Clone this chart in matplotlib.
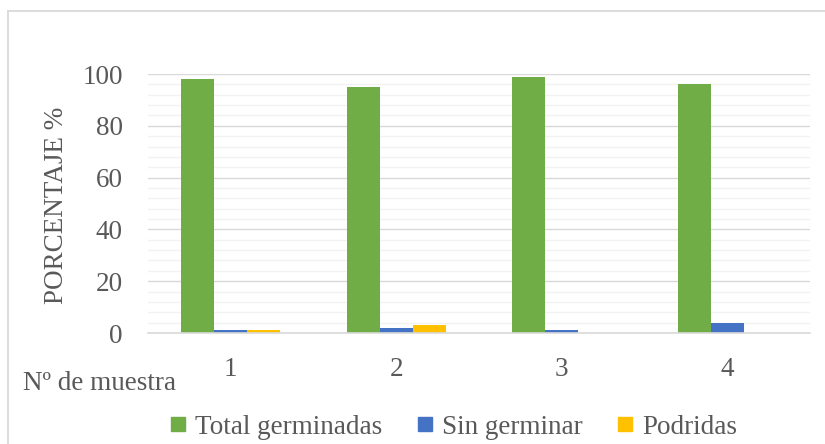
import matplotlib
matplotlib.use("Agg")
import matplotlib.pyplot as plt
from matplotlib.ticker import MultipleLocator
from matplotlib.lines import Line2D
import numpy as np

categories = ["1", "2", "3", "4"]
series_names = ["Total germinadas", "Sin germinar", "Podridas"]
total_germinadas = [98, 95, 99, 96]
sin_germinar = [1, 2, 1, 4]
podridas = [1, 3, 0, 0]
colors = ["#70AD47", "#4472C4", "#FFC000"]

plt.rcParams['font.family'] = ['Liberation Serif', 'DejaVu Serif']
txt = "#595959"
fs = 19.5

fig = plt.figure(figsize=(8.25, 4.44), dpi=100)
ax = fig.add_axes([148/825, 1-333/444, (810-148)/825, (333-74)/444])

x = np.arange(len(categories))
w = 0.2
for i, (vals, c) in enumerate(zip([total_germinadas, sin_germinar, podridas], colors)):
    ax.bar(x + (i-1)*w, vals, width=w, color=c, zorder=3)

ax.set_xlim(-0.5, len(categories)-0.5)
ax.set_ylim(0, 100)
ax.yaxis.set_major_locator(MultipleLocator(20))
ax.yaxis.set_minor_locator(MultipleLocator(4))
ax.grid(which='major', axis='y', color='#D9D9D9', linewidth=1.0, zorder=1)
ax.grid(which='minor', axis='y', color='#F2F2F2', linewidth=1.0, zorder=0)
ax.set_xticks(x)
ax.set_xticklabels(categories)
ax.tick_params(axis='both', which='both', length=0, labelsize=fs, labelcolor=txt)
ax.tick_params(axis='x', pad=17)
ax.tick_params(axis='y', pad=18)
for s in ['top', 'right', 'left']:
    ax.spines[s].set_visible(False)
ax.spines['bottom'].set_color('#D9D9D9')
ax.spines['bottom'].set_linewidth(1.2)
ax.spines['bottom'].set_zorder(4)

fig.text(57/825, 1-205/444, "PORCENTAJE %", rotation=90, ha='center', va='center',
         fontsize=fs, color=txt)
fig.text(23/825, 1-383/444, "Nº de muestra", ha='left', va='center',
         fontsize=fs, color=txt)

handles = [Line2D([], [], marker='s', linestyle='none', markersize=10, color=c) for c in colors]
fig.legend(handles, series_names, loc='center', bbox_to_anchor=(454/825, 1-427/444),
           ncol=3, frameon=False, prop={'family': 'Liberation Serif', 'size': fs},
           labelcolor=txt,
           handlelength=0.55, handletextpad=0.35, columnspacing=1.3, borderpad=0)

# outer chart border
fig.add_artist(Line2D([7.5/825, 1], [1-11.5/444, 1-11.5/444], color='#D9D9D9', linewidth=1.3,
                      transform=fig.transFigure))
fig.add_artist(Line2D([7.5/825, 7.5/825], [0, 1-11.5/444], color='#D9D9D9', linewidth=1.3,
                      transform=fig.transFigure))

fig.savefig("out.png", dpi=100)
